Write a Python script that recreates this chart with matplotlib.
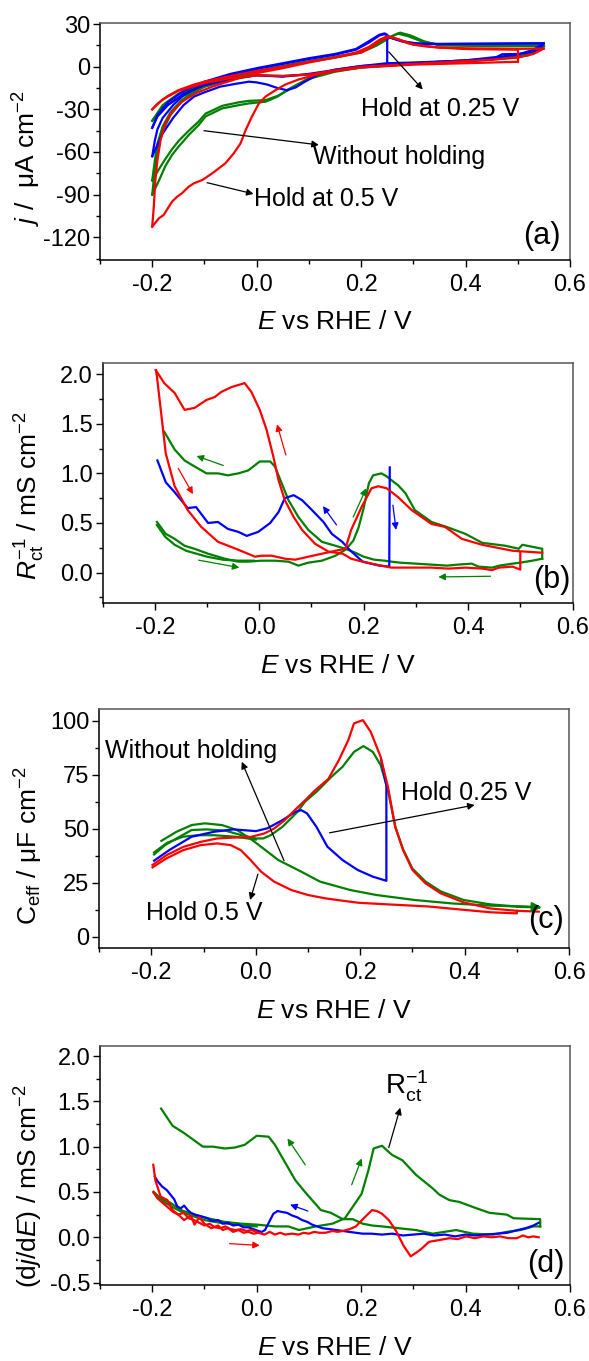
# ================= Import Libraries ==================
import matplotlib
matplotlib.use("Agg")
import matplotlib.pyplot as plt
from matplotlib.ticker import MultipleLocator

plt.rcParams["font.family"] = ["Liberation Sans", "DejaVu Sans"]
plt.rcParams["mathtext.fontset"] = "custom"
plt.rcParams["mathtext.rm"] = "Liberation Sans"
plt.rcParams["mathtext.it"] = "Liberation Sans:italic"
plt.rcParams["mathtext.bf"] = "Liberation Sans:bold"
plt.rcParams["axes.unicode_minus"] = False

BLUE = "#0000ff"
GREEN = "#008000"
RED = "#ff0000"

# ================== Data: panel (a) CV ======================
a_red_hold_E = [0.5, 0.5]
a_red_hold_j = [11.0, 3.5]
a_red_c1_E = [0.5, 0.45, 0.4, 0.3, 0.2, 0.15, 0.11, 0.08, 0.055, 0.036, 0.017, 0.004, -0.009, -0.021,
              -0.031, -0.044, -0.06, -0.085, -0.104, -0.12, -0.13, -0.143, -0.152, -0.162, -0.168,
              -0.178, -0.187, -0.2]
a_red_c1_j = [3.5, 3.0, 2.5, 1.5, -0.5, -3.0, -6.0, -9.0, -12.5, -16.5, -21.0, -26.0, -35.0, -44.5,
              -54.0, -61.0, -68.0, -75.0, -79.7, -82.0, -84.4, -89.0, -91.4, -94.9, -98.4,
              -104.3, -106.6, -112.5]
a_red_a1_E = [-0.2, -0.197, -0.194, -0.19, -0.184, -0.175, -0.162, -0.143, -0.117, -0.085, -0.034, 0.0,
              0.05, 0.1, 0.15, 0.19, 0.215, 0.235, 0.25, 0.27, 0.29, 0.32, 0.35, 0.4, 0.45, 0.5, 0.55]
a_red_a1_j = [-112.5, -98.4, -79.7, -65.6, -51.5, -39.8, -31.6, -24.6, -18.7, -14.0, -8.0, -4.5,
              -1.0, 3.0, 6.5, 10.0, 14.0, 19.0, 21.5, 19.5, 16.5, 14.5, 13.5, 13.0, 12.8, 12.6, 12.8]
a_red_c2_E = [0.55, 0.53, 0.5, 0.45, 0.4, 0.3, 0.2, 0.15, 0.1, 0.05, 0.0, -0.05, -0.1, -0.15, -0.18, -0.2]
a_red_c2_j = [12.8, 9.0, 6.5, 5.0, 4.0, 2.0, 0.0, -2.5, -5.5, -6.5, -6.0, -8.0, -11.5, -17.0, -23.0, -30.0]
a_red_a2_E = [-0.2, -0.19, -0.17, -0.15, -0.12, -0.1, -0.05, 0.0, 0.05, 0.1, 0.15, 0.2, 0.22, 0.24,
              0.255, 0.27, 0.3, 0.35, 0.4, 0.5]
a_red_a2_j = [-30.0, -26.0, -20.5, -16.5, -12.5, -10.5, -6.5, -3.0, 0.0, 3.5, 6.5, 10.0, 14.0, 19.0,
              21.0, 19.5, 15.5, 13.5, 12.5, 12.0]

a_grn_c1_E = [0.55, 0.53, 0.5, 0.4, 0.3, 0.2, 0.15, 0.1, 0.08, 0.06, 0.04, 0.017, -0.015, -0.034,
              -0.066, -0.098, -0.111, -0.13, -0.149, -0.162, -0.175, -0.187, -0.2]
a_grn_c1_j = [15.0, 10.0, 7.0, 4.5, 2.5, 0.0, -3.0, -8.0, -12.0, -16.0, -21.0, -24.6, -25.8, -27.0,
              -29.3, -35.0, -41.0, -48.0, -56.0, -62.0, -70.0, -80.0, -90.0]
a_grn_a1_E = [-0.2, -0.195, -0.19, -0.18, -0.165, -0.145, -0.12, -0.1, -0.05, 0.0, 0.05, 0.1, 0.15,
              0.2, 0.23, 0.255, 0.27, 0.29, 0.318, 0.35, 0.45, 0.55]
a_grn_a1_j = [-90.0, -72.0, -58.0, -45.0, -34.0, -25.0, -18.0, -14.0, -8.0, -3.5, 0.0, 3.5, 6.5,
              10.0, 15.0, 20.5, 23.4, 21.5, 17.6, 15.5, 15.0, 15.0]
a_grn_c2_E = [0.55, 0.53, 0.5, 0.4, 0.3, 0.2, 0.15, 0.1, 0.08, 0.06, 0.04, 0.017, -0.015, -0.034,
              -0.066, -0.098, -0.111, -0.13, -0.149, -0.162, -0.175, -0.187, -0.2]
a_grn_c2_j = [14.5, 9.5, 6.5, 4.0, 2.0, -0.5, -3.5, -8.5, -12.5, -16.5, -20.5, -23.5, -24.0, -25.0,
              -27.5, -33.0, -38.5, -45.0, -52.0, -58.0, -65.0, -72.0, -80.0]
a_grn_a2_E = [-0.2, -0.195, -0.19, -0.18, -0.165, -0.145, -0.12, -0.1, -0.05, 0.0, 0.05, 0.1, 0.15,
              0.2, 0.23, 0.255, 0.275, 0.295, 0.32, 0.35, 0.45, 0.55]
a_grn_a2_j = [-80.0, -66.0, -54.0, -42.0, -32.0, -24.0, -17.0, -13.0, -7.0, -3.0, 0.5, 4.0, 7.0,
              10.5, 15.5, 21.0, 24.0, 22.0, 18.0, 15.0, 14.5, 14.5]
a_grn_c3_E = [0.55, 0.52, 0.45, 0.3, 0.2, 0.15, 0.1, 0.05, 0.0, -0.05, -0.1, -0.15, -0.18, -0.2]
a_grn_c3_j = [14.5, 8.0, 5.0, 2.0, -0.5, -3.0, -5.5, -6.5, -6.0, -9.0, -14.0, -22.0, -29.0, -38.0]
a_grn_a3_E = [-0.2, -0.18, -0.15, -0.1, -0.05, 0.0]
a_grn_a3_j = [-38.0, -27.0, -19.0, -12.0, -7.5, -3.5]

a_blu_c1_E = [0.25, 0.27, 0.3, 0.35, 0.45, 0.55, 0.54, 0.52, 0.5, 0.47, 0.45, 0.3, 0.25, 0.2, 0.15,
              0.12, 0.09, 0.075, 0.058, 0.04, 0.02, 0.0, -0.015, -0.04, -0.07, -0.1, -0.12, -0.14,
              -0.16, -0.18, -0.2]
a_blu_c1_j = [21.0, 19.0, 16.5, 16.0, 16.2, 16.5, 12.0, 10.0, 9.0, 8.8, 5.0, 3.0, 2.5, 0.5, -2.0,
              -5.0, -11.0, -14.5, -16.5, -15.0, -12.5, -11.0, -10.5, -12.0, -14.0, -18.0, -21.0, -27.0,
              -36.0, -47.0, -63.0]
a_blu_a1_E = [-0.2, -0.195, -0.19, -0.18, -0.16, -0.14, -0.1, -0.05, 0.0, 0.05, 0.1, 0.15, 0.19,
              0.215, 0.235, 0.245, 0.26, 0.28, 0.32, 0.45, 0.55]
a_blu_a1_j = [-63.0, -52.0, -44.0, -36.0, -27.0, -20.0, -12.0, -6.0, -1.5, 2.0, 5.5, 8.5, 12.0,
              17.0, 22.0, 23.0, 20.0, 17.6, 16.0, 16.3, 16.5]
a_blu_c2_E = [0.55, 0.53, 0.5, 0.4, 0.3, 0.2, 0.1, 0.05, 0.0, -0.05, -0.1, -0.14, -0.17, -0.19, -0.2]
a_blu_c2_j = [16.5, 12.0, 8.5, 4.5, 2.5, 0.5, -5.0, -7.0, -6.0, -8.5, -13.0, -19.0, -27.0, -35.0, -43.0]
a_blu_a2_E = [-0.2, -0.19, -0.17, -0.14, -0.1, -0.05, 0.0, 0.05, 0.1, 0.15, 0.19, 0.215, 0.235,
              0.245, 0.25, 0.25]
a_blu_a2_j = [-43.0, -34.0, -25.0, -17.0, -10.5, -5.0, -1.0, 2.5, 6.0, 9.0, 12.5, 18.0, 22.5,
              23.5, 22.5, 2.5]

# ================== Data: panel (b) 1/Rct ======================
b_grn_fwd_E = [-0.196, -0.179, -0.162, -0.143, -0.124, -0.098, -0.066, -0.04, -0.021, 0.004, 0.03,
               0.056, 0.075, 0.094, 0.12, 0.146, 0.165, 0.18, 0.19, 0.2, 0.21, 0.218, 0.234, 0.244,
               0.256, 0.266, 0.28, 0.298, 0.33, 0.359, 0.395, 0.427, 0.472, 0.497, 0.504, 0.542, 0.542]
b_grn_fwd_v = [0.51, 0.39, 0.34, 0.27, 0.24, 0.19, 0.14, 0.11, 0.11, 0.12, 0.12,
               0.11, 0.07, 0.10, 0.12, 0.17, 0.23, 0.32, 0.45, 0.65, 0.9, 0.98, 1.0, 0.97,
               0.92, 0.88, 0.8, 0.63, 0.51, 0.46, 0.39, 0.30, 0.27, 0.24, 0.28, 0.24, 0.14]
b_grn_rev_E = [0.542, 0.523, 0.5, 0.485, 0.46, 0.446, 0.42, 0.407, 0.38, 0.36, 0.33, 0.3, 0.27, 0.253,
               0.24, 0.22, 0.2, 0.184, 0.165, 0.146, 0.12, 0.094, 0.075, 0.056, 0.043, 0.03, 0.021,
               0.001, -0.021, -0.04, -0.06, -0.079, -0.101, -0.124, -0.143, -0.162, -0.182]
b_grn_rev_v = [0.14, 0.12, 0.10, 0.09, 0.07, 0.05, 0.06, 0.09, 0.08, 0.07, 0.08, 0.09, 0.10, 0.11,
               0.12, 0.13, 0.16, 0.2, 0.24, 0.27, 0.31, 0.43, 0.56, 0.73, 0.90, 1.07, 1.12,
               1.12, 1.03, 1.0, 0.98, 1.0, 1.0, 1.07, 1.13, 1.24, 1.42]
b_grn2_E = [-0.196, -0.18, -0.162, -0.14, -0.12, -0.1, -0.07, -0.04, -0.01]
b_grn2_v = [0.48, 0.36, 0.28, 0.22, 0.19, 0.16, 0.13, 0.12, 0.12]

b_blu_E = [-0.195, -0.179, -0.162, -0.137, -0.121, -0.098, -0.079, -0.06, -0.04, -0.024, -0.002,
           0.021, 0.037, 0.049, 0.066, 0.082, 0.101, 0.123, 0.139, 0.159, 0.173, 0.198, 0.23, 0.249, 0.25]
b_blu_v = [1.13, 0.91, 0.81, 0.65, 0.66, 0.5, 0.51, 0.44, 0.41, 0.37, 0.41,
           0.5, 0.61, 0.75, 0.78, 0.73, 0.63, 0.51, 0.39, 0.31, 0.23, 0.11, 0.07, 0.06, 1.06]

b_red_rev_E = [0.5, 0.5, 0.485, 0.459, 0.446, 0.427, 0.395, 0.362, 0.33, 0.298, 0.253, 0.215, 0.19,
               0.176, 0.16, 0.133, 0.107, 0.082, 0.066, 0.049, 0.037, 0.027, 0.014, 0.001, -0.015,
               -0.028, -0.053, -0.073, -0.085, -0.101, -0.124, -0.143, -0.162, -0.182, -0.198]
b_red_rev_v = [0.2, 0.03, 0.06, 0.05, 0.025, 0.04, 0.05, 0.04, 0.05, 0.05, 0.05, 0.09, 0.12,
               0.14, 0.19, 0.21, 0.29, 0.43, 0.56, 0.73, 0.93, 1.17, 1.44, 1.64, 1.82,
               1.91, 1.87, 1.82, 1.77, 1.74, 1.66, 1.64, 1.81, 1.91, 2.04]
b_red_fwd_E = [-0.198, -0.196, -0.179, -0.162, -0.137, -0.111, -0.079, -0.04, -0.008, 0.004, 0.024,
               0.049, 0.069, 0.094, 0.12, 0.146, 0.165, 0.176, 0.196, 0.215, 0.228, 0.244, 0.266,
               0.292, 0.33, 0.356, 0.388, 0.427, 0.485, 0.542]
b_red_fwd_v = [2.04, 1.98, 1.2, 0.87, 0.63, 0.46, 0.31, 0.23, 0.16, 0.17, 0.17,
               0.14, 0.13, 0.16, 0.19, 0.22, 0.24, 0.43, 0.66, 0.85, 0.87, 0.85, 0.76,
               0.63, 0.49, 0.46, 0.34, 0.28, 0.22, 0.2]

# ================== Data: panel (c) Ceff ======================
c_red_rev_E = [0.5, 0.5, 0.45, 0.4, 0.33, 0.25, 0.197, 0.165, 0.132, 0.1, 0.068, 0.035, 0.01, -0.01,
               -0.029, -0.048, -0.074, -0.106, -0.139, -0.171, -0.198]
c_red_rev_v = [12.0, 10.8, 11.3, 12.4, 14.0, 15.0, 15.7, 16.7, 17.8, 19.3, 21.6, 25.5, 30.1, 35.5,
               40.1, 42.4, 43.2, 42.4, 40.1, 36.3, 32.1]
c_red_fwd_E = [-0.198, -0.171, -0.139, -0.106, -0.074, -0.042, -0.01, 0.016, 0.035, 0.055, 0.074,
               0.094, 0.113, 0.139, 0.159, 0.177, 0.188, 0.205, 0.22, 0.239, 0.253, 0.267, 0.282,
               0.3, 0.325, 0.354, 0.398, 0.448, 0.499, 0.542]
c_red_fwd_v = [33.2, 37.8, 41.6, 43.9, 45.5, 45.9, 46.2, 47.8, 50.1, 53.9, 58.5,
               63.1, 67.7, 73.1, 81.8, 91.0, 98.8, 100.3, 94.9, 83.3, 69.4, 50.9, 40.1,
               30.9, 24.7, 20.1, 15.9, 13.1, 12.0, 11.6]

c_grn_rev_E = [0.542, 0.52, 0.448, 0.376, 0.304, 0.231, 0.181, 0.123, 0.087, 0.043, 0.014, -0.007,
               -0.036, -0.065, -0.098, -0.123, -0.152, -0.181]
c_grn_rev_v = [13.6, 13.9, 14.4, 15.4, 17.0, 19.3, 21.6, 25.5, 30.1, 35.5, 40.9, 44.8,
               49.4, 51.7, 52.5, 51.7, 48.6, 44.4]
c_grn_fwd_E = [-0.195, -0.174, -0.152, -0.123, -0.094, -0.058, -0.029, 0.0, 0.014, 0.029, 0.051,
               0.08, 0.094, 0.116, 0.145, 0.166, 0.188, 0.206, 0.224, 0.239, 0.253, 0.267, 0.282,
               0.3, 0.325, 0.354, 0.398, 0.448, 0.499, 0.542]
c_grn_fwd_v = [38.1, 42.4, 45.5, 49.4, 49.7, 49.1, 47.1, 45.5, 45.5, 47.1, 50.9,
               57.9, 62.5, 67.1, 74.1, 78.7, 85.6, 88.3, 85.6, 79.5, 67.9, 50.9, 40.5,
               31.5, 25.5, 21.0, 17.0, 15.0, 14.0, 13.6]
c_grn3_E = [-0.195, -0.17, -0.14, -0.11, -0.08, -0.04, 0.0]
c_grn3_v = [39.0, 43.5, 46.3, 47.0, 47.0, 46.3, 45.0]

c_blu_E = [-0.195, -0.166, -0.123, -0.08, -0.043, 0.0, 0.022, 0.051, 0.076, 0.087, 0.098, 0.116,
           0.137, 0.166, 0.195, 0.224, 0.25, 0.25, 0.24]
c_blu_v = [35.2, 40.1, 46.3, 48.6, 49.7, 48.9, 50.2, 54.0, 57.9, 58.6, 57.1, 50.9,
           41.7, 35.5, 30.9, 27.8, 25.9, 70.0, 81.8]

# ================== Data: panel (d) dj/dE ======================
d_grn_fwd_E = [-0.197, -0.184, -0.165, -0.145, -0.119, -0.094, -0.061, -0.029, 0.0, 0.035, 0.061,
               0.081, 0.113, 0.145, 0.169, 0.188, 0.201, 0.214, 0.224, 0.24, 0.259, 0.279, 0.305,
               0.337, 0.35, 0.369, 0.388, 0.421, 0.446, 0.479, 0.492, 0.543, 0.543]
d_grn_fwd_v = [0.50, 0.43, 0.38, 0.30, 0.25, 0.21, 0.17, 0.15, 0.14, 0.12, 0.12,
               0.08, 0.12, 0.15, 0.21, 0.37, 0.48, 0.74, 0.98, 1.01, 0.91, 0.85, 0.69,
               0.54, 0.47, 0.41, 0.39, 0.32, 0.27, 0.25, 0.21, 0.20, 0.12]
d_grn_rev_E = [0.543, 0.53, 0.505, 0.479, 0.453, 0.414, 0.382, 0.337, 0.305, 0.272, 0.24, 0.221,
               0.203, 0.184, 0.165, 0.142, 0.123, 0.094, 0.074, 0.055, 0.035, 0.023, 0.0, -0.023,
               -0.042, -0.061, -0.084, -0.103, -0.139, -0.161, -0.183]
d_grn_rev_v = [0.12, 0.12, 0.08, 0.06, 0.03, 0.04, 0.08, 0.04, 0.08, 0.10, 0.12, 0.13,
               0.15, 0.20, 0.20, 0.27, 0.30, 0.49, 0.63, 0.82, 1.02, 1.11, 1.12, 1.02,
               0.99, 0.98, 1.0, 1.0, 1.15, 1.23, 1.42]
d_grn2_E = [-0.197, -0.18, -0.16, -0.14, -0.12, -0.1, -0.07, -0.04, 0.0]
d_grn2_v = [0.49, 0.40, 0.33, 0.27, 0.23, 0.19, 0.16, 0.14, 0.12]

d_blu_E = [-0.195, -0.19, -0.181, -0.172, -0.165, -0.158, -0.152, -0.145, -0.139, -0.132,
           -0.126, -0.118, -0.106, -0.1, -0.094, -0.085, -0.074, -0.065, -0.055, -0.045,
           -0.035, -0.025, -0.016, -0.006, 0.003, 0.01, 0.016, 0.024, 0.032, 0.04,
           0.048, 0.058, 0.068, 0.078, 0.087, 0.097, 0.106, 0.116, 0.126, 0.14,
           0.152, 0.165, 0.177, 0.19, 0.203, 0.22, 0.24, 0.26, 0.28, 0.3,
           0.32, 0.34, 0.36, 0.38, 0.4, 0.42, 0.44, 0.46, 0.48, 0.5,
           0.515, 0.53, 0.54]
d_blu_v = [0.67, 0.62, 0.56, 0.52, 0.47, 0.42, 0.34, 0.32, 0.35, 0.30,
           0.27, 0.25, 0.23, 0.22, 0.21, 0.18, 0.19, 0.15, 0.16, 0.13,
           0.14, 0.11, 0.11, 0.09, 0.07, 0.06, 0.08, 0.17, 0.26, 0.29,
           0.28, 0.27, 0.24, 0.22, 0.19, 0.17, 0.14, 0.12, 0.10, 0.09,
           0.08, 0.07, 0.06, 0.05, 0.04, 0.04, 0.03, 0.04, 0.02, 0.03,
           0.04, 0.02, 0.03, 0.01, 0.03, 0.02, 0.03, 0.04, 0.05, 0.08,
           0.10, 0.13, 0.16]

d_red_E = [-0.198, -0.194, -0.184, -0.171, -0.161, -0.152, -0.139, -0.126, -0.119, -0.11,
           -0.1, -0.087, -0.074, -0.065, -0.055, -0.045, -0.035, -0.025, -0.016, -0.006,
           0.003, 0.015, 0.025, 0.035, 0.045, 0.055, 0.068, 0.08, 0.09, 0.1,
           0.11, 0.12, 0.132, 0.145, 0.155, 0.165, 0.178, 0.19, 0.205, 0.221,
           0.23, 0.24, 0.253, 0.266, 0.282, 0.295, 0.308, 0.317, 0.33, 0.35,
           0.369, 0.385, 0.401, 0.418, 0.434, 0.45, 0.466, 0.482, 0.498, 0.51,
           0.52, 0.53, 0.54]
d_red_v = [0.80, 0.63, 0.45, 0.41, 0.30, 0.26, 0.19, 0.24, 0.14, 0.22,
           0.15, 0.10, 0.13, 0.08, 0.10, 0.06, 0.08, 0.05, 0.06, 0.04,
           0.05, 0.03, 0.06, 0.03, 0.05, 0.03, 0.04, 0.03, 0.05, 0.04,
           0.06, 0.05, 0.05, 0.07, 0.06, 0.07, 0.09, 0.12, 0.21, 0.30,
           0.29, 0.26, 0.19, 0.08, -0.10, -0.21, -0.16, -0.12, -0.05, -0.03,
           -0.01, -0.02, 0.01, -0.01, 0.01, 0.0, 0.01, -0.01, -0.01, 0.02,
           0.0, 0.01, 0.0]
d_red2_E = [-0.198, -0.19, -0.18, -0.17, -0.16, -0.15, -0.14, -0.13, -0.12, -0.11, -0.1, -0.09,
            -0.08, -0.07, -0.06, -0.05, -0.04, -0.03, -0.02, -0.01, 0.0]
d_red2_v = [0.50, 0.43, 0.38, 0.33, 0.28, 0.25, 0.27, 0.21, 0.19, 0.16, 0.13, 0.15,
            0.11, 0.10, 0.12, 0.09, 0.08, 0.09, 0.07, 0.08, 0.06]

# ================= Helpers ======================
LW = 1.6
TICK_FS = 17
LABEL_FS = 19
NOTE_FS = 18


def style_axes(ax, ylim, ymajor, yminor, ylabel, ylabel_pos):
    ax.set_xlim(-0.3, 0.6)
    ax.set_ylim(*ylim)
    ax.xaxis.set_major_locator(MultipleLocator(0.2))
    ax.xaxis.set_minor_locator(MultipleLocator(0.1))
    ax.yaxis.set_major_locator(MultipleLocator(ymajor))
    ax.yaxis.set_minor_locator(MultipleLocator(yminor))
    ax.tick_params(which="both", direction="out", top=False, right=False,
                   labelsize=TICK_FS, width=1.0)
    ax.tick_params(which="major", length=5)
    ax.tick_params(which="minor", length=3)
    ax.tick_params(axis="x", pad=5)
    ax.tick_params(axis="y", pad=2)
    for side in ["left", "bottom"]:
        ax.spines[side].set_linewidth(1.1)
    for side in ["top", "right"]:
        ax.spines[side].set_color("#555555")
        ax.spines[side].set_linewidth(1.1)
    ax.set_xlabel(r"$E$ vs RHE / V", fontsize=LABEL_FS)
    ax.xaxis.set_label_coords(0.5, -0.21)
    ax.set_ylabel(ylabel, fontsize=LABEL_FS)
    ax.yaxis.set_label_coords(*ylabel_pos)


def arrow(ax, start, end, color="black", lw=0.9, ms=10):
    ax.annotate("", xy=end, xytext=start,
                arrowprops=dict(arrowstyle="-|>", color=color, lw=lw,
                                mutation_scale=ms, shrinkA=0, shrinkB=0))


fig = plt.figure(figsize=(5.89, 13.61), dpi=100)

# ================= Panel (a) ======================
ax = fig.add_axes([0.1698, 0.8090, 0.7979, 0.1743])
ax.plot(a_grn_c1_E, a_grn_c1_j, color=GREEN, lw=LW)
ax.plot(a_grn_a1_E, a_grn_a1_j, color=GREEN, lw=LW)
ax.plot(a_grn_c2_E, a_grn_c2_j, color=GREEN, lw=LW)
ax.plot(a_grn_a2_E, a_grn_a2_j, color=GREEN, lw=LW)
ax.plot(a_grn_c3_E, a_grn_c3_j, color=GREEN, lw=LW)
ax.plot(a_grn_a3_E, a_grn_a3_j, color=GREEN, lw=LW)
ax.plot(a_blu_c1_E, a_blu_c1_j, color=BLUE, lw=LW)
ax.plot(a_blu_a1_E, a_blu_a1_j, color=BLUE, lw=LW)
ax.plot(a_blu_c2_E, a_blu_c2_j, color=BLUE, lw=LW)
ax.plot(a_blu_a2_E, a_blu_a2_j, color=BLUE, lw=LW)
ax.plot(a_red_hold_E, a_red_hold_j, color=RED, lw=LW)
ax.plot(a_red_c1_E, a_red_c1_j, color=RED, lw=LW)
ax.plot(a_red_a1_E, a_red_a1_j, color=RED, lw=LW)
ax.plot(a_red_c2_E, a_red_c2_j, color=RED, lw=LW)
ax.plot(a_red_a2_E, a_red_a2_j, color=RED, lw=LW)

arrow(ax, (0.253, 10.5), (0.318, -16.0))
ax.text(0.199, -29.8, "Hold at 0.25 V", fontsize=NOTE_FS, va="center")
arrow(ax, (-0.101, -45.0), (0.119, -55.0))
ax.text(0.108, -63.7, "Without holding", fontsize=NOTE_FS, va="center")
arrow(ax, (-0.095, -81.6), (-0.006, -89.5))
ax.text(-0.006, -93.0, "Hold at 0.5 V", fontsize=NOTE_FS, va="center")
ax.text(0.547, -118.8, "(a)", fontsize=22, ha="center", va="center")

style_axes(ax, (-136, 31), 30, 15, r"$j$ /  μA cm$^{-2}$", (-0.121, 0.43))

# ================= Panel (b) ======================
ax = fig.add_axes([0.1742, 0.5567, 0.7978, 0.1764])
ax.plot(b_grn_fwd_E, b_grn_fwd_v, color=GREEN, lw=LW)
ax.plot(b_grn_rev_E, b_grn_rev_v, color=GREEN, lw=LW)
ax.plot(b_grn2_E, b_grn2_v, color=GREEN, lw=LW)
ax.plot(b_blu_E, b_blu_v, color=BLUE, lw=LW)
ax.plot(b_red_rev_E, b_red_rev_v, color=RED, lw=LW)
ax.plot(b_red_fwd_E, b_red_fwd_v, color=RED, lw=LW)

arrow(ax, (0.051, 1.185), (0.034, 1.495), color=RED)
arrow(ax, (-0.155, 1.05), (-0.127, 0.79), color=RED)
arrow(ax, (-0.069, 1.08), (-0.12, 1.175), color=GREEN)
arrow(ax, (-0.116, 0.125), (-0.038, 0.05), color=GREEN)
arrow(ax, (0.18, 0.56), (0.205, 0.85), color=GREEN)
arrow(ax, (0.148, 0.48), (0.122, 0.67), color=BLUE)
arrow(ax, (0.256, 0.68), (0.262, 0.43), color=BLUE)
arrow(ax, (0.443, -0.037), (0.343, -0.044), color=GREEN)
ax.text(0.561, -0.077, "(b)", fontsize=22, ha="center", va="center")

style_axes(ax, (-0.31, 2.11), 0.5, 0.25, r"$R_{\mathrm{ct}}^{-1}$ / mS cm$^{-2}$", (-0.118, 0.45))

# ================= Panel (c) ======================
ax = fig.add_axes([0.1685, 0.3032, 0.7977, 0.1756])
ax.plot(c_grn_rev_E, c_grn_rev_v, color=GREEN, lw=LW)
ax.plot(c_grn_fwd_E, c_grn_fwd_v, color=GREEN, lw=LW)
ax.plot(c_grn3_E, c_grn3_v, color=GREEN, lw=LW)
ax.plot(c_blu_E, c_blu_v, color=BLUE, lw=LW)
ax.plot(c_red_rev_E, c_red_rev_v, color=RED, lw=LW)
ax.plot(c_red_fwd_E, c_red_fwd_v, color=RED, lw=LW)
arrow(ax, (0.5, 13.8), (0.548, 13.6), color=GREEN, lw=LW, ms=14)

arrow(ax, (0.054, 35.2), (-0.027, 81.0))
ax.text(-0.289, 86.1, "Without holding", fontsize=NOTE_FS, va="center")
arrow(ax, (0.141, 48.1), (0.419, 61.0))
ax.text(0.278, 66.7, "Hold 0.25 V", fontsize=NOTE_FS, va="center")
arrow(ax, (0.004, 29.0), (-0.011, 17.0))
ax.text(-0.21, 10.8, "Hold 0.5 V", fontsize=NOTE_FS, va="center")
ax.text(0.555, 7.7, "(c)", fontsize=22, ha="center", va="center")

style_axes(ax, (-5.4, 105.3), 25, 12.5, r"C$_{\mathrm{eff}}$ / μF cm$^{-2}$", (-0.115, 0.43))

# ================= Panel (d) ======================
ax = fig.add_axes([0.1698, 0.0556, 0.7979, 0.1758])
ax.plot(d_grn_fwd_E, d_grn_fwd_v, color=GREEN, lw=LW)
ax.plot(d_grn_rev_E, d_grn_rev_v, color=GREEN, lw=LW)
ax.plot(d_grn2_E, d_grn2_v, color=GREEN, lw=LW)
ax.plot(d_blu_E, d_blu_v, color=BLUE, lw=LW)
ax.plot(d_red2_E, d_red2_v, color=RED, lw=LW)
ax.plot(d_red_E, d_red_v, color=RED, lw=LW)

arrow(ax, (0.093, 0.80), (0.059, 1.09), color=GREEN)
arrow(ax, (0.182, 0.58), (0.201, 0.87), color=GREEN)
arrow(ax, (0.098, 0.29), (0.064, 0.36), color=BLUE)
arrow(ax, (-0.052, -0.07), (0.006, -0.09), color=RED)
arrow(ax, (0.253, 0.99), (0.275, 1.43))
ax.text(0.246, 1.67, r"R$_{\mathrm{ct}}^{\mathrm{-1}}$", fontsize=20, va="center")
ax.text(0.553, -0.29, "(d)", fontsize=22, ha="center", va="center")

style_axes(ax, (-0.53, 2.11), 0.5, 0.25, r"(d$j$/d$E$) / mS cm$^{-2}$", (-0.117, 0.415))

plt.savefig("out.png", dpi=100)
plt.close()
